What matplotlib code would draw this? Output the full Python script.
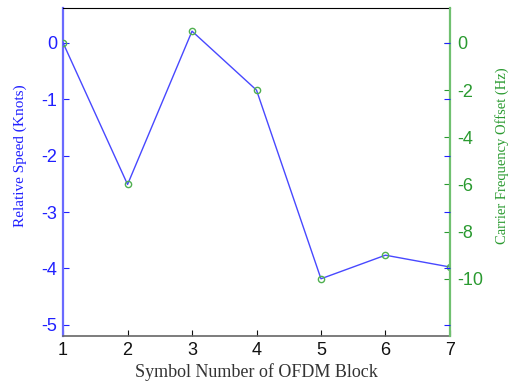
import matplotlib.pyplot as plt
from matplotlib.ticker import FixedLocator

plt.rcParams['axes.unicode_minus'] = False

# data
blocks = [1, 2, 3, 4, 5, 6, 7]
cfo_hz = [0, -6, 0.5, -2, -10, -9, -9.5]   # carrier frequency offset
speed_ticks = [0, -1, -2, -3, -4, -5]
cfo_ticks = [0, -2, -4, -6, -8, -10]

blue = '#2020ff'
green = '#2a9a30'
hz_per_knot = 2.39
speed_lim = (-5.2, 0.62)

fig = plt.figure(figsize=(5.13, 3.81), dpi=100)
ax = fig.add_axes([0.123, 0.118, 0.754, 0.861])
ax2 = ax.twinx()

ax2.plot(blocks, cfo_hz, color='#4848ff', lw=1)
ax2.plot(blocks, cfo_hz, 'o', mfc='none', mec='#50b050', ms=4.5, mew=1)

ax.set_xlim(1, 7)
ax.set_ylim(*speed_lim)
ax2.set_ylim(speed_lim[0] * hz_per_knot, speed_lim[1] * hz_per_knot)
ax.set_xticks(blocks)
ax.set_yticks(speed_ticks)
ax2.set_yticks(cfo_ticks)

tick_font = dict(family='Liberation Sans', size=13)
for lab in ax.get_xticklabels():
    lab.set_fontproperties(tick_font)
for lab in ax.get_yticklabels():
    lab.set_fontproperties(tick_font)
for lab in ax2.get_yticklabels():
    lab.set_fontproperties(tick_font)

ax.tick_params(axis='x', direction='in', length=4, colors='#111111', pad=4)
ax.tick_params(axis='y', direction='in', length=4, colors=blue, right=False, pad=4)
ax2.tick_params(axis='y', direction='in', length=4, colors=green, pad=5)

# blue speed ticks mirrored on the right spine (box on)
ax3 = ax.twinx()
ax3.set_ylim(*speed_lim)
ax3.yaxis.set_major_locator(FixedLocator(speed_ticks))
ax3.tick_params(axis='y', direction='in', length=4, colors=blue, labelright=False)
for s in ax3.spines.values():
    s.set_visible(False)

ax.spines['left'].set_color('#6a6aff')
ax.spines['left'].set_linewidth(1.6)
ax.spines['bottom'].set_color('#666666')
ax.spines['bottom'].set_linewidth(1.2)
ax.spines['top'].set_color('black')
ax.spines['right'].set_visible(False)
ax2.spines['left'].set_visible(False)
ax2.spines['right'].set_color('#70c070')
ax2.spines['right'].set_linewidth(1.6)
ax2.spines['top'].set_visible(False)
ax2.spines['bottom'].set_visible(False)

ax.set_xlabel('Symbol Number of OFDM Block', family='Liberation Serif', size=13,
              color='#333333', labelpad=3)
ax.set_ylabel('Relative Speed (Knots)', family='Liberation Serif', size=11,
              color=blue)
ax2.set_ylabel('Carrier Frequency Offset (Hz)', family='Liberation Serif', size=10.5,
               color=green)
ax.yaxis.set_label_coords(-0.094, 0.55)
ax2.yaxis.set_label_coords(1.117, 0.55)

fig.savefig('out.png', dpi=100)
